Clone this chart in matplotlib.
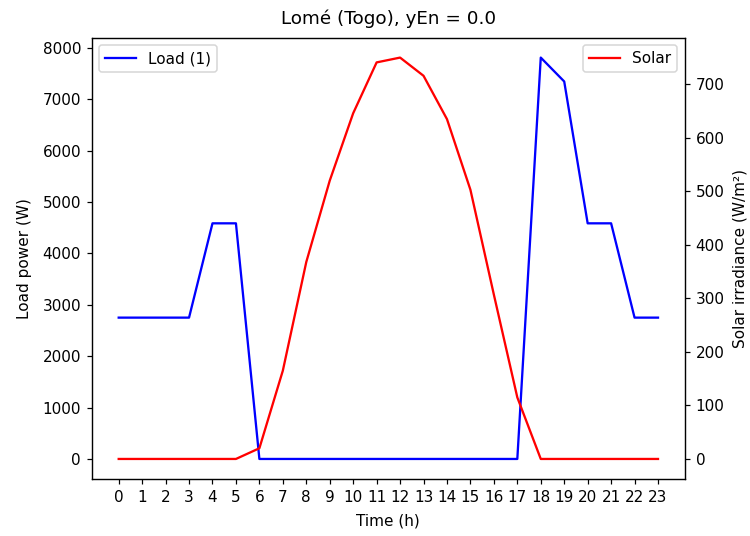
import matplotlib
matplotlib.use("Agg")
import matplotlib.pyplot as plt
import numpy as np

hours = list(range(24))
load = [2750, 2750, 2750, 2750, 4585, 4585, 0, 0, 0, 0, 0, 0,
        0, 0, 0, 0, 0, 0, 7810, 7345, 4585, 4585, 2750, 2750]
solar = [0, 0, 0, 0, 0, 0, 20, 165, 368, 520, 646, 741,
         750, 716, 635, 503, 307, 115, 0, 0, 0, 0, 0, 0]

if __name__ == "__main__":
    dpi = 110
    fig = plt.figure(figsize=(750 / dpi, 536 / dpi), dpi=dpi)
    ax = fig.add_subplot(111)
    ax2 = ax.twinx()

    ax.plot(hours, load, color='b', label='Load (1)')
    ax2.plot(hours, solar, color='r', label='Solar')

    ax.set_title("Lomé (Togo), yEn = 0.0", pad=9)
    ax.set_xlabel("Time (h)", labelpad=6)
    ax.set_ylabel("Load power (W)", labelpad=7)
    ax2.set_ylabel("Solar irradiance (W/m²)", labelpad=5)
    ax.set_xticks(hours)

    ax.legend(loc='upper left')
    ax2.legend(loc='upper right')

    fig.subplots_adjust(left=0.1223, right=0.9133, top=0.930, bottom=0.1063)
    fig.savefig("out.png", dpi=dpi)
